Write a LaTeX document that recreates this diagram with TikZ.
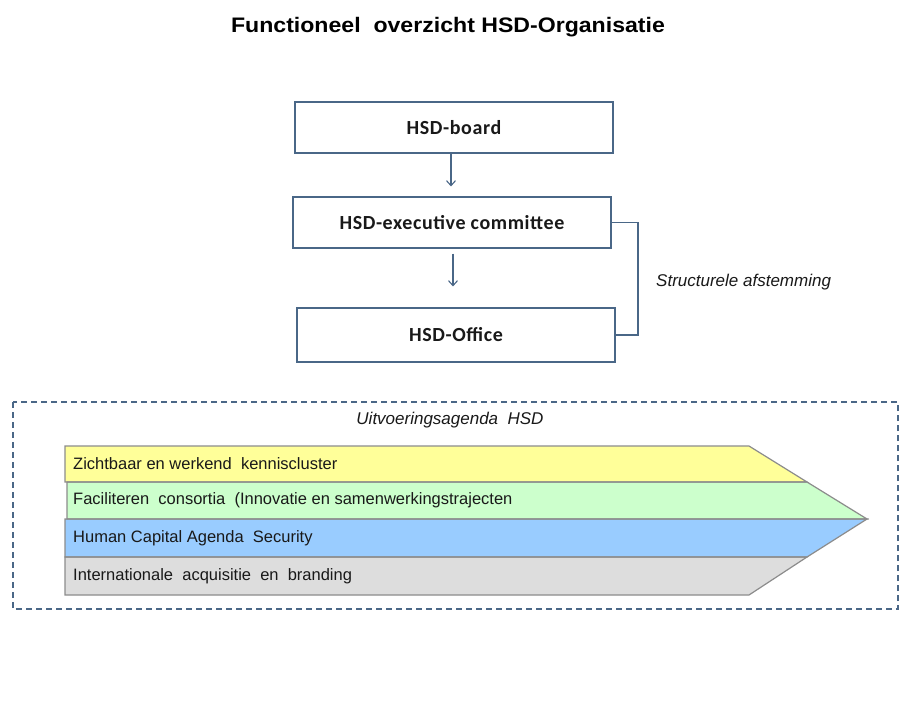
\documentclass[tikz,border=0pt]{standalone}
\usepackage{fontspec}
\setmainfont{Liberation Sans}
\newfontfamily\titlefont[FakeStretch=1.1]{Liberation Sans}
\newfontfamily\carlitofont[LetterSpace=3]{Carlito}
\usetikzlibrary{arrows.meta}
\definecolor{boxline}{HTML}{4A6787}
\definecolor{bandline}{HTML}{8C8C8C}
\definecolor{cyel}{HTML}{FFFF99}
\definecolor{cgrn}{HTML}{CCFFCC}
\definecolor{cblu}{HTML}{99CCFF}
\definecolor{cgry}{HTML}{DDDDDD}
\tikzset{
  orgbox/.style={draw=boxline, line width=1.1pt, minimum width=318pt, minimum height=51pt, inner sep=0pt, font=\carlitofont\bfseries\fontsize{20}{23}\selectfont, text=black!90},
  flow/.style={draw=boxline, line width=1.1pt, -{Straight Barb[length=5pt,width=9pt,line width=1.1pt]}},
  band/.style={draw=bandline, line width=1.2pt, line join=miter},
  bandtext/.style={anchor=west, inner sep=0pt, font=\fontsize{16.5}{19}\selectfont, text=black!90},
  itext/.style={inner sep=0pt, font=\itshape\fontsize{17}{19}\selectfont, text=black!90},
}
\begin{document}
\begin{tikzpicture}[x=1pt,y=-1pt]
\useasboundingbox[fill=white] (0,0) rectangle (916,721);
\node[inner sep=0pt, font=\titlefont\bfseries\fontsize{21}{24}\selectfont] (title) at (448,27) {Functioneel\ \ overzicht HSD-Organisatie};
\node[orgbox] (board) at (454,127.5) {HSD-board};
\node[orgbox] (exec) at (452,222.5) {HSD-executive committee};
\node[orgbox, minimum height=54pt] (office) at (456,335) {HSD-Office};
\draw[flow, shorten >=10pt] (board.south -| 451,0) -- (exec.north -| 451,0);
\draw[flow, shorten <=5pt, shorten >=21pt] (exec.south -| 453,0) -- (office.north -| 453,0);
\coordinate (br) at (638,0);
\draw[draw=boxline, line width=1.1pt] (exec.east) -- (exec.east -| br) |- (office.east);
\node[itext, anchor=west] (afst) at (656,282) {Structurele afstemming};
% dashed frame
\draw[draw=boxline, line width=1.3pt, dash pattern=on 6pt off 4pt] (13,402) rectangle (898,609);
\node[itext] (uitv) at (450,420) {Uitvoeringsagenda\ \ HSD};
% bands
\fill[cyel] (65,446) -- (749,446) -- (807,482) -- (65,482) -- cycle;
\fill[cgrn] (67,482) -- (807,482) -- (867,519) -- (67,519) -- cycle;
\fill[cblu] (65,519) -- (867,519) -- (807,557) -- (65,557) -- cycle;
\fill[cgry] (65,557) -- (807,557) -- (749,595) -- (65,595) -- cycle;
\draw[band] (65,446) -- (749,446) -- (807,482) -- (65,482) -- cycle;
\draw[band] (67,482) -- (807,482) -- (867,519) -- (67,519) -- cycle;
\draw[band] (65,519) -- (867,519) -- (807,557) -- (65,557) -- cycle;
\draw[band] (65,557) -- (807,557) -- (749,595) -- (65,595) -- cycle;
\node[bandtext] (b1) at (73,464) {Zichtbaar en werkend\ \ kenniscluster};
\node[bandtext] (b2) at (73,500.5) {Faciliteren\ \ consortia\ \ (Innovatie en samenwerkingstrajecten};
\node[bandtext] (b3) at (73,538) {Human Capital Agenda\ \ Security};
\node[bandtext] (b4) at (73,576) {Internationale\ \ acquisitie\ \ en\ \ branding};
\end{tikzpicture}
\end{document}
